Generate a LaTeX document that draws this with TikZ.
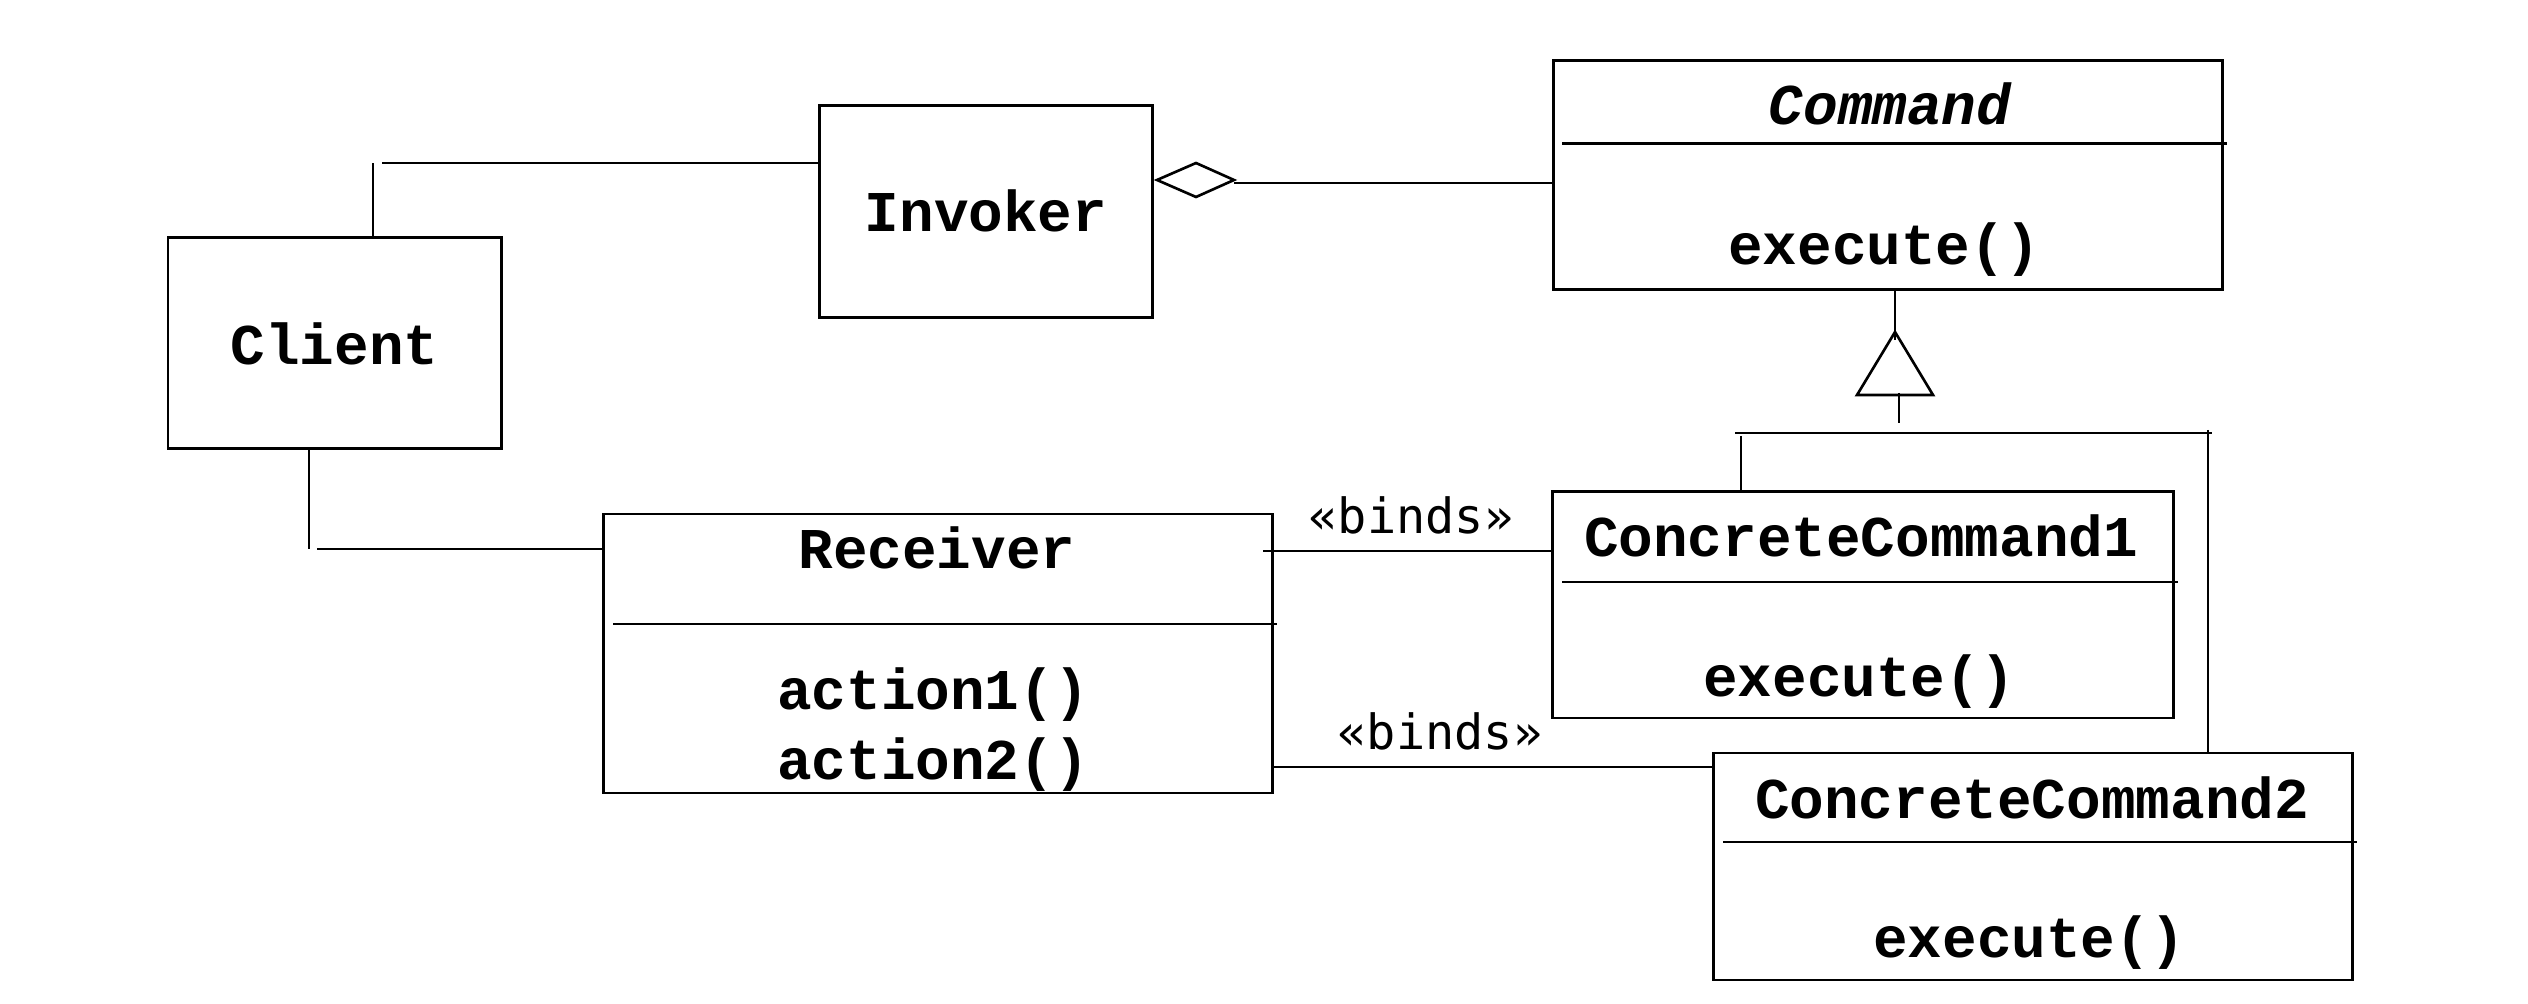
\documentclass[tikz,border=0pt]{standalone}
\usepackage{fontspec}
\usetikzlibrary{fit}
\newfontfamily\umlmono{Liberation Mono}
\newfontfamily\stereofont{DejaVu Sans Mono}
\begin{document}
\begin{tikzpicture}[x=0.01cm,y=-0.01cm,
  box/.style={draw, line width=0.85pt, inner sep=0pt, outer sep=0pt},
  divider/.style={line width=0.85pt},
  conn/.style={line width=0.75pt},
  lbl/.style={anchor=base, inner sep=0pt, font=\umlmono\bfseries\fontsize{16.4}{20}\selectfont},
  ilbl/.style={anchor=base, inner sep=0pt, font=\umlmono\bfseries\itshape\fontsize{16.4}{20}\selectfont},
  ster/.style={anchor=base, inner sep=0pt, font=\stereofont\fontsize{13.8}{16}\selectfont}]
\useasboundingbox (0,0) rectangle (2528,1004);

% boxes
\node[box, fit={(168,238)(501,449)}] (client) {};
\node[box, fit={(819,106)(1152,318)}] (invoker) {};
\node[box, fit={(1553,61)(2222,290)}] (command) {};
\node[box, fit={(603,514)(1272,793)}] (receiver) {};
\node[box, fit={(1552,492)(2173,718)}] (cc1) {};
\node[box, fit={(1713,753)(2352,980)}] (cc2) {};

% dividers
\draw[divider] (1562,144) -- (2227,144);
\draw[divider] (613,624) -- (1277,624);
\draw[divider] (1562,582) -- (2178,582);
\draw[divider] (1723,842) -- (2357,842);

% texts
\node[lbl] (tclient) at (334.5,365) {Client};
\node[lbl] (tinvoker) at (986,232) {Invoker};
\node[ilbl] (tcommand) at (1890,125) {Command};
\node[lbl] (tcexec) at (1884,265) {execute()};
\node[lbl] (treceiver) at (937,569) {Receiver};
\node[lbl] (ta1) at (933,710) {action1()};
\node[lbl] (ta2) at (933,780) {action2()};
\node[lbl] (tcc1) at (1861,557) {ConcreteCommand1};
\node[lbl] (tcc1e) at (1859,697) {execute()};
\node[lbl] (tcc2) at (2032,818) {ConcreteCommand2};
\node[lbl] (tcc2e) at (2029,957) {execute()};
\node[ster] (b1lbl) at (1411,534) {«binds»};
\node[ster] (b2lbl) at (1440,750) {«binds»};

% Client -- Invoker
\coordinate (ci) at (373,163);
\coordinate (ci2) at (382,163);
\draw[conn] (client.north -| ci) -- (ci);
\draw[conn] (ci2) -- (ci2 -| invoker.west);

% Client -- Receiver
\coordinate (cr) at (309,549);
\coordinate (cr2) at (317,549);
\draw[conn] (client.south -| cr) -- (cr);
\draw[conn] (cr2) -- (cr2 -| receiver.west);

% Invoker <>-- Command
\draw[conn] (1157,180) -- (1196,163) -- (1234,180) -- (1196,197) -- cycle;
\coordinate (ag) at (1234,183);
\draw[conn] (ag) -- (ag -| command.west);

% generalization
\coordinate (g) at (1895,340);
\draw[conn] (command.south -| g) -- (g);
\draw[conn] (1895,332) -- (1857,395) -- (1933,395) -- cycle;
\coordinate (gs) at (1899,393);
\coordinate (gs2) at (1899,423);
\draw[conn] (gs) -- (gs2);
\coordinate (gl) at (1735,433);
\coordinate (gr) at (2212,433);
\draw[conn] (gl) -- (gr);
\coordinate (g1) at (1741,436);
\draw[conn] (g1) -- (g1 |- cc1.north);
\coordinate (g2) at (2208,430);
\draw[conn] (g2) -- (g2 |- cc2.north);

% binds
\coordinate (b1) at (1263,551);
\draw[conn] (b1) -- (b1 -| cc1.west);
\coordinate (b2) at (1271,767);
\draw[conn] (b2) -- (b2 -| cc2.west);
\end{tikzpicture}
\end{document}
